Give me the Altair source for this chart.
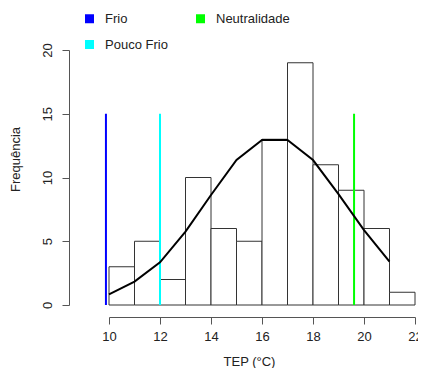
import altair as alt
import pandas as pd

bin_start = [10, 11, 12, 13, 14, 15, 16, 17, 18, 19, 20, 21]
bin_end = [11, 12, 13, 14, 15, 16, 17, 18, 19, 20, 21, 22]
counts = [3, 5, 2, 10, 6, 5, 13, 19, 11, 9, 6, 1]

curve_x = [10, 11, 12, 13, 14, 15, 16, 17, 18, 19, 20, 21]
curve_y = [0.84, 1.83, 3.35, 5.75, 8.63, 11.37, 12.94, 12.94, 11.37, 8.7, 5.88, 3.4]

ref_names = ["Frio", "Pouco Frio", "Neutralidade"]
ref_pos = [9.88, 12.0, 19.61]
ref_top = [15, 15, 15]
ref_colors = ["#0000ff", "#00ffff", "#00ff00"]

hist = pd.DataFrame({"a": bin_start, "b": bin_end, "n": counts})
curve = pd.DataFrame({"x": curve_x, "y": curve_y})
refs = pd.DataFrame({"name": ref_names, "pos": ref_pos,
                     "top": ref_top, "zero": [0] * 3})

FONT = "Liberation Sans"
AX = "#555555"

xscale = alt.Scale(domain=[10, 22], nice=False, zero=False)
yscale = alt.Scale(domain=[0, 20], nice=False)

xaxis = alt.Axis(values=[10, 12, 14, 16, 18, 20, 22], title="TEP (°C)", grid=False,
                 offset=12, domainColor=AX, tickColor=AX, tickSize=7, labelPadding=6,
                 labelFlush=False,
                 labelFontSize=13, titleFontSize=13, titleFontWeight="normal",
                 labelColor="#222", titleColor="#222", labelFont=FONT, titleFont=FONT,
                 titleX=140, titleY=38)
yaxis = alt.Axis(values=[0, 5, 10, 15, 20], title="Frequência", grid=False,
                 offset=40, domainColor=AX, tickColor=AX, tickSize=7, labelAngle=270,
                 labelAlign="center", labelBaseline="bottom", labelPadding=8,
                 labelFlush=False,
                 labelFontSize=13, titleFontSize=13, titleFontWeight="normal",
                 labelColor="#222", titleColor="#222", labelFont=FONT, titleFont=FONT,
                 titleX=-47, titleY=109)

bars = alt.Chart(hist).mark_rect(fill="white", stroke="#333333", strokeWidth=1).encode(
    x=alt.X("a:Q", scale=xscale, axis=xaxis),
    x2="b:Q",
    y=alt.Y("n:Q", scale=yscale, axis=yaxis),
    y2=alt.datum(0),
)

line = alt.Chart(curve).mark_line(color="black", strokeWidth=2).encode(
    x=alt.X("x:Q", scale=xscale),
    y=alt.Y("y:Q", scale=yscale),
)

rules = alt.Chart(refs).mark_rule(strokeWidth=2).encode(
    x=alt.X("pos:Q", scale=xscale),
    y=alt.Y("zero:Q", scale=yscale),
    y2="top:Q",
    color=alt.Color("name:N", scale=alt.Scale(domain=ref_names, range=ref_colors),
                    legend=alt.Legend(title=None, orient="none", legendX=-26, legendY=-38,
                                      columns=2, columnPadding=20, rowPadding=1,
                                      symbolType="square", symbolSize=16,
                                      symbolStrokeWidth=5,
                                      labelFont=FONT, labelFontSize=13, labelColor="#222",
                                      labelOffset=9)),
)

chart = alt.layer(bars, rules, line).properties(
    width=306, height=255,
    autosize=alt.AutoSizeParams(type="none"),
    padding={"left": 101, "top": 42, "right": 3, "bottom": 63},
    background="white",
).configure_view(stroke=None)

chart.save("out.html", embed_options={"renderer": "svg", "actions": False})
